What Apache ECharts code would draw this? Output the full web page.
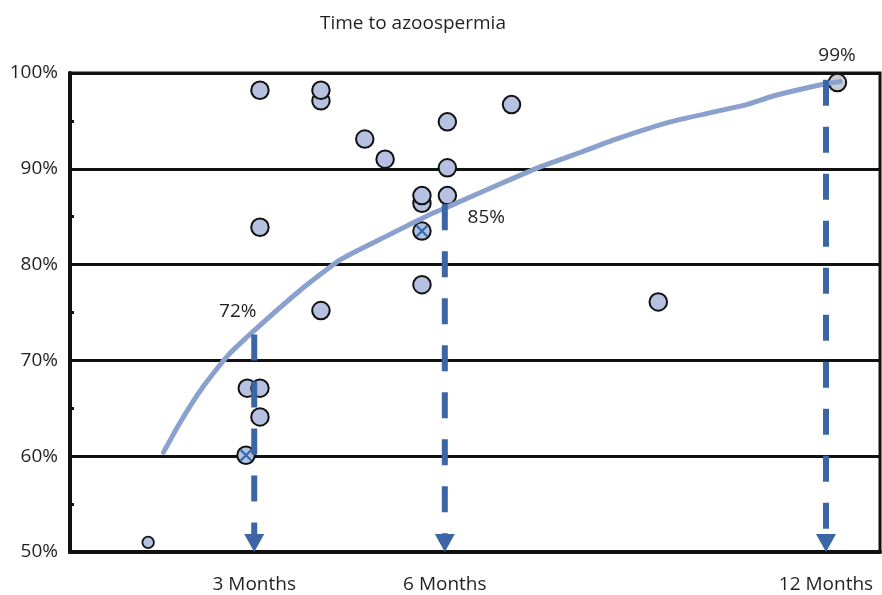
<!DOCTYPE html>
<html>
<head>
<meta charset="utf-8">
<script src="https://cdn.jsdelivr.net/npm/echarts@6/dist/echarts.min.js"></script>
<style>
  html, body { margin: 0; padding: 0; background: #fff; }
  #chart { width: 882px; height: 595px; }
</style>
</head>
<body>
<div id="chart"></div>
<script>
// ---------- data ----------
const chartTitle = 'Time to azoospermia';
const xTickMonths = [3, 6, 12];
const xTickLabels = ['3 Months', '6 Months', '12 Months'];
const yTickValues = [50, 60, 70, 80, 90, 100];
const yTickLabels = ['50%', '60%', '70%', '80%', '90%', '100%'];

// fitted curve (months, % azoospermic)
const fitMonths = [1.57, 1.84, 2.2, 2.57, 2.98, 3.72, 4.35, 5.09, 5.82, 6.04, 6.76, 7.5, 8.13, 8.65, 9.55, 10.75, 11.17, 12.01, 12.22];
const fitPct    = [60.4, 63.6, 67.3, 70.4, 73.0, 77.3, 80.5, 83.0, 85.4, 86.0, 88.1, 90.2, 91.7, 93.0, 94.9, 96.7, 97.6, 98.9, 99.1];

// study points (drawn in this order so overlaps match)
const studyMonths = [2.89, 3.09, 3.09, 2.87, 3.09, 3.09, 4.05, 4.05, 4.74, 5.06, 6.04, 6.04, 6.04, 5.64, 5.64, 5.64, 5.64, 4.05, 7.05, 9.36];
const studyPct    = [67.1, 67.1, 64.1, 60.1, 98.2, 83.9, 97.1, 98.2, 93.1, 91.0, 94.9, 90.1, 87.2, 86.4, 87.2, 83.5, 77.9, 75.2, 96.7, 76.1];

const smallMonths = [1.33];
const smallPct    = [51.0];

const crossMonths = [2.87, 5.64];
const crossPct    = [60.1, 83.5];

const finalMonths = [12.18];
const finalPct    = [99.0];

const arrowMonths = [3, 6, 12];
const arrowTops   = [72.7, 86.3, 99.3];
const arrowLabels = ['72%', '85%', '99%'];

// ---------- styles ----------
const FONT = '"Open Sans", "Noto Sans", sans-serif';
const FS = 19;
const TEXT = '#231f20';
const labelOffsets = [[-16.5, -23], [41.5, 13.5], [11, -24.5]];
const arrowColor = '#3b66a6';

const zip = (a, b) => a.map((v, i) => [v, b[i]]);

const chart = echarts.init(document.getElementById('chart'), null, { renderer: 'canvas' });

const option = {
  backgroundColor: '#fff',
  animation: false,
  title: {
    text: chartTitle,
    left: 315,
    top: 9,
    textStyle: { fontFamily: FONT, fontSize: FS, fontWeight: 'normal', color: TEXT }
  },
  grid: {
    left: 70, right: 2, top: 73, bottom: 43,
    show: true, borderColor: '#111', borderWidth: 3, backgroundColor: 'transparent'
  },
  xAxis: {
    type: 'value',
    min: 0.1,
    max: 12.85,
    axisLine: { show: true, lineStyle: { color: '#111', width: 4 } },
    axisTick: { show: false },
    splitLine: { show: false },
    axisLabel: {
      customValues: xTickMonths,
      formatter: v => xTickLabels[xTickMonths.indexOf(v)] || '',
      margin: 23,
      fontFamily: FONT, fontSize: FS, color: TEXT
    }
  },
  yAxis: {
    type: 'value',
    min: 50, max: 100, interval: 10,
    axisLine: { show: true, lineStyle: { color: '#111', width: 4 } },
    axisTick: { show: true, inside: true, length: 4, lineStyle: { color: '#111', width: 3 } },
    minorTick: { show: true, splitNumber: 2, length: 4, lineStyle: { color: '#111', width: 3 } },
    splitLine: { show: true, lineStyle: { color: '#111', width: 3 } },
    axisLabel: {
      formatter: v => yTickLabels[yTickValues.indexOf(v)] || '',
      margin: 12,
      fontFamily: FONT, fontSize: FS, color: TEXT
    }
  },
  series: [
    {
      type: 'scatter',
      data: zip(studyMonths, studyPct),
      symbol: 'circle',
      symbolSize: 17.5,
      itemStyle: { color: '#b6c0e0', borderColor: '#111', borderWidth: 2, opacity: 1 },
      z: 3
    },
    {
      type: 'scatter',
      data: zip(smallMonths, smallPct),
      symbol: 'circle',
      symbolSize: 11.5,
      itemStyle: { color: '#b6c0e0', borderColor: '#111', borderWidth: 1.8, opacity: 1 },
      z: 3
    },
    {
      type: 'scatter',
      data: zip(finalMonths, finalPct),
      symbol: 'circle',
      symbolSize: 17.5,
      itemStyle: { color: '#c8cbd4', borderColor: '#111', borderWidth: 2, opacity: 1 },
      z: 3
    },
    {
      type: 'scatter',
      data: zip(crossMonths, crossPct),
      symbol: 'path://M0,0L10,10M0,10L10,0',
      symbolSize: 11,
      itemStyle: { color: 'transparent', borderColor: '#2c6bb0', borderWidth: 2.2, opacity: 1 },
      z: 4
    },
    {
      type: 'line',
      data: zip(fitMonths, fitPct),
      smooth: 0.15,
      showSymbol: false,
      symbol: 'none',
      lineStyle: { color: '#8aa0cd', width: 5, cap: 'round', join: 'round' },
      z: 5
    },
    {
      type: 'custom',
      z: 6,
      clip: false,
      data: arrowMonths.map((m, i) => [m, arrowTops[i], yTickValues[0], i]),
      encode: { x: 0, y: 1 },
      renderItem: function (params, api) {
        const idx = api.value(3);
        const top = api.coord([api.value(0), api.value(1)]);
        const bot = api.coord([api.value(0), api.value(2)]);
        const headH = 18, headW = 20;
        const off = labelOffsets[idx];
        return {
          type: 'group',
          children: [
            {
              type: 'line',
              shape: { x1: top[0], y1: top[1], x2: bot[0], y2: bot[1] - headH + 1 },
              style: { stroke: arrowColor, lineWidth: 6, lineDash: [26, 21] }
            },
            {
              type: 'polygon',
              shape: { points: [[bot[0] - headW / 2, bot[1] - headH], [bot[0] + headW / 2, bot[1] - headH], [bot[0], bot[1]]] },
              style: { fill: arrowColor }
            },
            {
              type: 'text',
              x: top[0] + off[0],
              y: top[1] + off[1],
              style: {
                text: arrowLabels[idx],
                fill: TEXT,
                font: FS + 'px ' + FONT,
                align: 'center', verticalAlign: 'middle',
                textAlign: 'center', textVerticalAlign: 'middle'
              }
            }
          ]
        };
      }
    }
  ]
};

chart.setOption(option);
</script>
</body>
</html>
